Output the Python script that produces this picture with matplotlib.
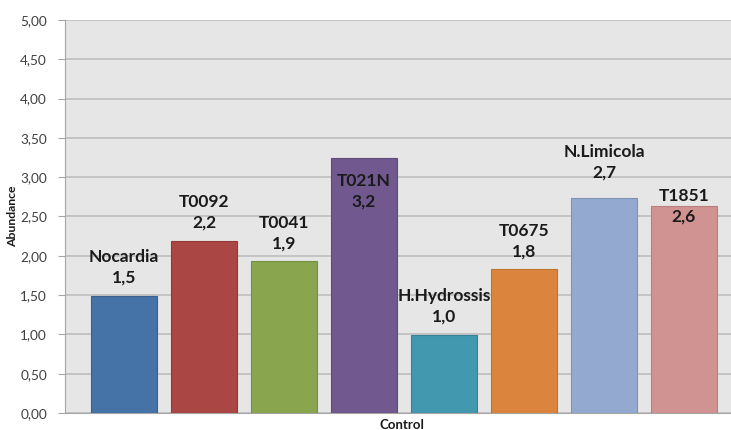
import matplotlib.pyplot as plt
import numpy as np

organisms = ["Nocardia", "T0092", "T0041", "T021N", "H.Hydrossis",
             "T0675", "N.Limicola", "T1851"]
abundance = [1.49, 2.19, 1.93, 3.24, 0.99, 1.83, 2.74, 2.63]
group_label = "Control"

colors = ["#4572A7", "#AA4643", "#89A54E", "#71588F",
          "#4198AF", "#DB843D", "#93A9CF", "#D19392"]
edges = ["#3A6090", "#933A38", "#76903F", "#5F4A7A",
         "#378397", "#C2722F", "#7E93B8", "#BA7F7E"]
# vertical offset (points) of each two-line label from the top of its bar
label_offsets = [20.5, 20.5, 20.5, -23.4, 20.5, 19.8, 25.6, 0.0]

plt.rcParams['font.family'] = ['Lato', 'DejaVu Sans']

fig = plt.figure(figsize=(7.31, 4.30), dpi=100)
ax = fig.add_axes([65 / 731, 17 / 430, 666 / 731, 393 / 430])
ax.set_facecolor("#E6E6E6")

x = np.arange(len(organisms))
ax.bar(x, abundance, width=0.825, color=colors, edgecolor=edges,
       linewidth=0.8, zorder=3)

for xi, val, name, off in zip(x, abundance, organisms, label_offsets):
    txt = "%s\n%s" % (name, ("%.1f" % val).replace(".", ","))
    ax.annotate(txt, (xi, val), xytext=(0, off), textcoords="offset points",
                ha="center", va="center", fontsize=12.5, fontweight="bold",
                color="#1A1A1A", linespacing=1.35, zorder=4)

ax.set_xlim(-0.7375, 7.5875)
ax.set_ylim(0, 5)
ax.set_yticks(np.arange(0, 5.01, 0.5))
ax.set_yticklabels([("%.2f" % t).replace(".", ",") for t in np.arange(0, 5.01, 0.5)])
ax.yaxis.grid(True, color="#BEBEBE", linewidth=1.2, zorder=0)
ax.set_xticks([])

for side in ["top", "right"]:
    ax.spines[side].set_visible(False)
ax.spines["left"].set_color("#A6A6A6")
ax.spines["bottom"].set_color("#A6A6A6")
ax.tick_params(axis="y", length=5, color="#A6A6A6", labelsize=9.8,
               labelcolor="#404040", pad=8)

fig.text(13 / 731, 1 - 216 / 430, "Abundance", rotation=90, ha="center",
         va="center", fontsize=8.8, fontweight="bold", color="#1A1A1A")
fig.text(402 / 731, 1 - 425 / 430, group_label, ha="center", va="center",
         fontsize=9.5, fontweight="bold", color="#1A1A1A")

fig.savefig("out.png", dpi=100, facecolor="white")
